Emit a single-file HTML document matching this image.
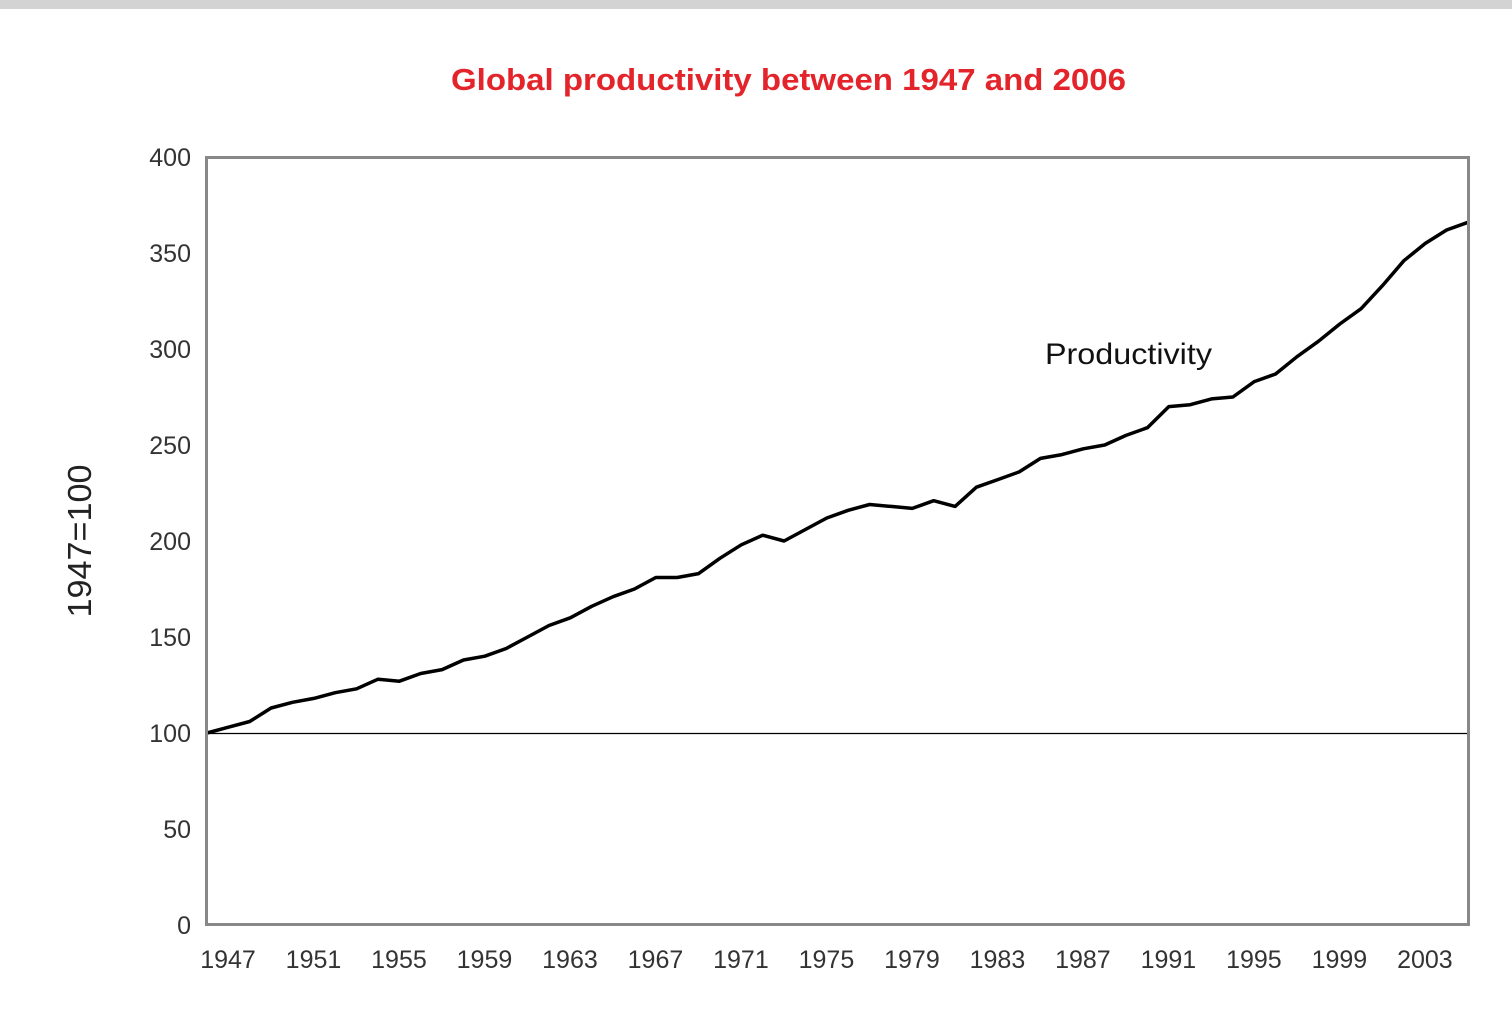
<!DOCTYPE html>
<html><head><meta charset="utf-8"><style>
html,body{margin:0;padding:0;background:#fff;}
body{width:1512px;height:1032px;overflow:hidden;position:relative;font-family:"Liberation Sans",sans-serif;}
</style></head><body>
<div style="position:absolute;left:0;top:0;width:1512px;height:9px;background:#d3d3d3"></div>
<svg id="chart" width="1512" height="1032" style="position:absolute;left:0;top:0" xmlns="http://www.w3.org/2000/svg">
<text x="451" y="90" textLength="675" lengthAdjust="spacingAndGlyphs" font-family="Liberation Sans, sans-serif" font-weight="bold" font-size="31" fill="#e3242b">Global productivity between 1947 and 2006</text>
<text transform="translate(91,541) rotate(-90)" text-anchor="middle" textLength="153" lengthAdjust="spacingAndGlyphs" font-family="Liberation Sans, sans-serif" font-size="33" fill="#222">1947=100</text>
<g id="yticks"></g><g id="xticks"></g>
<line id="base" stroke="#000" stroke-width="1.2"/>
<path id="line" fill="none" stroke="#000" stroke-width="3.5" stroke-linejoin="round"/>
<rect x="206.5" y="157.5" width="1262" height="767" fill="none" stroke="#888" stroke-width="3"/>
<text x="1045" y="364" textLength="167" lengthAdjust="spacingAndGlyphs" font-family="Liberation Sans, sans-serif" font-size="30" fill="#111">Productivity</text>
</svg>
<script>
const years = [];
for (let y = 1947; y <= 2006; y++) years.push(y);
const productivity = [100,103,106,113,116,118,121,123,128,127,131,133,138,140,144,150,156,160,166,171,175,181,181,183,191,198,203,200,206,212,216,219,218,217,221,218,228,232,236,243,245,248,250,255,259,270,271,274,275,283,287,296,304,313,321,333,346,355,362,366];
const yTickValues = [0,50,100,150,200,250,300,350,400];
const xTickYears = [1947,1951,1955,1959,1963,1967,1971,1975,1979,1983,1987,1991,1995,1999,2003];
const L=207,R=1468,T=157,B=925;
const xs = y => L + (y-1947)/(2006-1947)*(R-L);
const ys = v => B - v/400*(B-T);
const NS="http://www.w3.org/2000/svg";
const yt=document.getElementById('yticks');
yTickValues.forEach(v=>{const t=document.createElementNS(NS,'text');


t.setAttribute('x',191);t.setAttribute('y',ys(v)+9);t.setAttribute('text-anchor','end');
t.setAttribute('font-size','25');t.setAttribute('fill','#333');t.setAttribute('font-family','Liberation Sans, sans-serif');
t.textContent=v;yt.appendChild(t);});
const xt=document.getElementById('xticks');
xTickYears.forEach(y=>{const t=document.createElementNS(NS,'text');


t.setAttribute('x',xs(y)+21);t.setAttribute('y',968);t.setAttribute('text-anchor','middle');
t.setAttribute('font-size','25');t.setAttribute('fill','#333');t.setAttribute('font-family','Liberation Sans, sans-serif');
t.textContent=y;xt.appendChild(t);});
const b=document.getElementById('base');
b.setAttribute('x1',L);b.setAttribute('x2',R);b.setAttribute('y1',ys(100)+0.5);b.setAttribute('y2',ys(100)+0.5);
document.getElementById('line').setAttribute('d',productivity.map((v,i)=>(i?'L':'M')+xs(years[i]).toFixed(1)+','+ys(v).toFixed(1)).join(''));
</script>
</body></html>
